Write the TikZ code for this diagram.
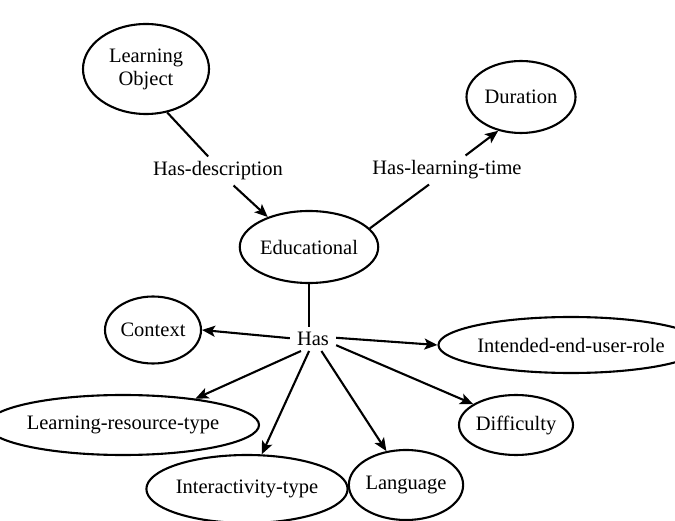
\documentclass[tikz,border=0pt]{standalone}
\usepackage{fontspec}
\setmainfont{Liberation Serif}
\newfontfamily\labelfont{Liberation Serif}
\usetikzlibrary{shapes.geometric,arrows.meta}
\begin{document}
\begin{tikzpicture}[x=1pt,y=-1pt,
  every node/.style={font=\labelfont\fontsize{20.5}{23}\selectfont},
  concept/.style={ellipse,draw,line width=2.1pt,inner sep=0pt,align=center},
  relation/.style={rectangle,inner xsep=7pt,inner ysep=5pt},
  link/.style={line width=2.1pt},
  arrowlink/.style={line width=2.1pt,-{Stealth[length=13pt,width=11pt,inset=3pt]}}]
  \clip (0,0) rectangle (675,521);
  \fill[white] (0,0) rectangle (675,521);

  % concepts
  \node[concept,minimum width=126pt,minimum height=90pt] (lo) at (146,69) {Learning\\Object};
  \node[concept,minimum width=109pt,minimum height=72pt] (dur) at (521,97) {Duration};
  \node[concept,minimum width=126pt,minimum height=72pt] (edu) at (309,247) {Educational};
  \node[concept,minimum width=96pt,minimum height=67pt] (ctx) at (153,330) {Context};
  \node[concept,minimum width=223pt,minimum height=60pt] (lrt) at (123,425) {Learning-resource-type};
  \node[concept,minimum width=169pt,minimum height=68pt] (itype) at (247,489) {Interactivity-type};
  \node[concept,minimum width=108pt,minimum height=70pt] (lang) at (406,485) {Language};
  \node[concept,minimum width=114pt,minimum height=60pt] (diff) at (516,425) {Difficulty};
  \node[concept,minimum width=210pt,minimum height=56pt] (ieur) at (571,345) {Intended-end-user-role};

  % relations
  \node[relation] (hasdesc) at (218,171) {Has-description};
  \node[relation] (haslt) at (447,170) {Has-learning-time};
  \node[relation] (has) at (313,339) {Has};

  % connectors
  \draw[link] (lo.-64) -- (hasdesc.124);
  \draw[arrowlink] (hasdesc.-43) -- (edu.144);
  \draw[link] (edu.17) -- (haslt.219);
  \draw[arrowlink] (haslt.38) -- (dur.236);
  \draw[link] (edu.south) -- (edu.south |- has.north);
  \draw[arrowlink] (has.178) -- (ctx.east);
  \draw[arrowlink] (has.3) -- (ieur.west);
  \draw[arrowlink] (has.225) -- (lrt.20);
  \draw[arrowlink] (has.252) -- (itype.67);
  \draw[arrowlink] (has.-55) -- (lang.120);
  \draw[arrowlink] (has.-15) -- (diff.154);
\end{tikzpicture}
\end{document}
